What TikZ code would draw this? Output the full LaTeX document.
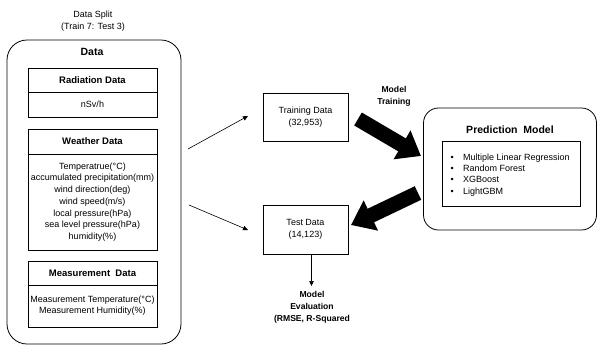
\documentclass[tikz,border=0pt]{standalone}
\usepackage{fontspec}
\setmainfont{Liberation Sans}
\usetikzlibrary{arrows.meta}
\begin{document}
\begin{tikzpicture}[x=1pt,y=-1pt,
  box/.style={draw, line width=0.8pt, inner sep=0pt, align=center, font=\fontsize{9}{11.7}\selectfont},
  ttlbox/.style={box, font=\fontsize{9.5}{11}\selectfont\bfseries},
  outer/.style={draw, line width=0.8pt, inner sep=0pt},
  txt/.style={font=\fontsize{9}{11.7}\selectfont, align=center, inner sep=0pt},
  btxt/.style={font=\fontsize{8.6}{12}\selectfont\bfseries, align=center, inner sep=0pt},
  thinarrow/.style={line width=0.6pt, -{Triangle[length=5pt,width=4.5pt]}},
  bigarrow/.style={line width=15pt, -{Triangle[length=22pt,width=32pt]}},
]
\useasboundingbox (0,0) rectangle (598,346);

% Data split label
\node[txt] (split) at (93,21) {Data Split\\(Train 7: Test 3)};

% Data outer box
\node[outer, rounded corners=20pt, minimum width=174pt, minimum height=304pt] (data) at (94,192) {};
\node[inner sep=0pt, font=\fontsize{10.5}{12}\selectfont\bfseries] (datattl) at (92,52) {Data};

% Radiation
\node[ttlbox, minimum width=129pt, minimum height=24pt] (radT) at (92.5,80) {Radiation Data};
\node[box, minimum width=129pt, minimum height=25pt] (radB) at (92.5,104.5) {nSv/h};

% Weather
\node[ttlbox, minimum width=129pt, minimum height=25pt] (weaT) at (92.5,141.5) {Weather Data};
\node[box, minimum width=129pt, minimum height=96pt] (weaB) at (92.5,202) {Temperatrue(°C)\\accumulated precipitation(mm)\\wind direction(deg)\\wind speed(m/s)\\local pressure(hPa)\\sea level pressure(hPa)\\humidity(\%)};

% Measurement
\node[ttlbox, minimum width=129pt, minimum height=24pt] (meaT) at (92.5,273) {Measurement\ \ Data};
\node[box, minimum width=129pt, minimum height=42pt, font=\fontsize{9}{11}\selectfont] (meaB) at (92.5,306) {Measurement Temperature(°C)\\Measurement Humidity(\%)};

% Training / Test
\node[box, minimum width=85pt, minimum height=48pt] (train) at (305.5,117) {Training Data\\(32,953)};
\node[box, minimum width=85pt, minimum height=49pt] (test) at (305.5,229.5) {Test Data\\(14,123)};

% Prediction model
\node[outer, rounded corners=15pt, minimum width=173pt, minimum height=122pt] (pred) at (510,169) {};
\node[inner sep=0pt, font=\fontsize{10.5}{12}\selectfont\bfseries] (predttl) at (510,130) {Prediction\ \ Model};
\node[outer, minimum width=138pt, minimum height=65pt] (inner) at (511,173.5) {};
\node[inner sep=0pt, anchor=west, align=left, font=\fontsize{9}{11.3}\selectfont] (list) at (449,175)
  {\makebox[14pt][l]{\,\textbullet}Multiple Linear Regression\\
   \makebox[14pt][l]{\,\textbullet}Random Forest\\
   \makebox[14pt][l]{\,\textbullet}XGBoost\\
   \makebox[14pt][l]{\,\textbullet}LightGBM};

% Labels
\node[btxt] (mtrain) at (394,96) {Model\\Training};
\node[btxt] (meval) at (312,307) {Model\\Evaluation\\(RMSE, R-Squared};

% Thin arrows
\coordinate (a1s) at (188,149);
\coordinate (a1e) at (248,116);
\coordinate (a2s) at (189,205);
\coordinate (a2e) at (248,230);
\draw[thinarrow] (a1s) -- (a1e);
\draw[thinarrow] (a2s) -- (a2e);
\coordinate (a3s) at ([xshift=6pt]test.south);
\coordinate (a3e) at (311.5,286);
\draw[thinarrow] (a3s) -- (a3e);

% Big arrows
\coordinate (b1s) at (358,119);
\coordinate (b1e) at (421,156);
\coordinate (b2s) at (418,193);
\coordinate (b2e) at (351,225);
\draw[bigarrow] (b1s) -- (b1e);
\draw[bigarrow] (b2s) -- (b2e);
\end{tikzpicture}
\end{document}
